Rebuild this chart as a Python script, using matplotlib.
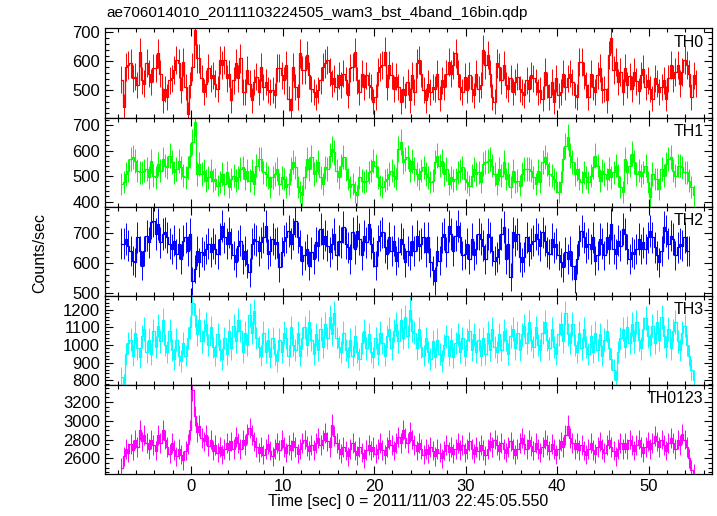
import numpy as np
import matplotlib
matplotlib.use("Agg")
import matplotlib.pyplot as plt
from matplotlib.ticker import MultipleLocator

plt.rcParams['font.family'] = ['Liberation Sans', 'DejaVu Sans']

title = "ae706014010_20111103224505_wam3_bst_4band_16bin.qdp"
xlabel = "Time [sec] 0 = 2011/11/03 22:45:05.550"
ylabel = "Counts/sec"
t_start = -7.6
bin_width = 0.25

names = ["TH0", "TH1", "TH2", "TH3", "TH0123"]

th0 = [537,444,581,587,593,541,547,518,631,535, 523,595,558,529,576,576,628,558,465,506,
       477,535,541,570,605,593,500,599,512,419, 518,581,709,610,610,541,494,523,576,541,
       552,523,506,605,587,605,541,558,465,535, 593,541,610,494,494,570,523,465,529,547,
       494,581,512,529,500,494,500,483,576,576, 552,535,587,471,431,581,512,477,628,570,
       570,622,552,506,494,477,500,535,581,593, 605,564,523,541,512,552,518,558,535,483,
       576,581,631,535,494,558,512,552,518,512, 460,477,564,581,587,634,512,587,552,506,
       547,512,460,506,
       483,529,465,552,494,593,605,558,500,465, 523,494,512,506,558,471,535,512,558,599,
       558,587,628,558,512,494,547,500,552,506, 483,558,506,518,640,587,622,558,477,460,
       593,581,535,587,518,506,541,494,529, 547,506,494,483,535,506,552,541,
       529,494,500,471,564,518,477,529,460, 541,483,494,558,512,541,558,529,483,
       477,599,599,552,518,477,558,512,494, 552,576,500,506,465,622,
       680,570,599,529, 564,494,576,518,548,506,563,531,497,552,575,512,535,506,471,541,523,494,
       512,535,471,541,587,541,564,587,523,564, 605,587,558,477,552,523]

th1 = [469,476,508,521,567,574,560,521,515,515, 521,528,495,560,502,495,547,521,567,541,
       534,580,554,515,528,560,534,502,495,534, 580,632,712,
       508,547,508,521,482,495,521,482,489,463, 476,508,469,515,456,489,502,482,495,528,
       534,489,521,482,521,469,541,567,567,515, 508,495,456,495,508,528,469,495,
       489,456,469,528,554,534,456,437, 424,495,567,528,574,508,521,554,495,
       469,534,528,580,606,593,521,495, 541,574,528,489,456,469,437,424,495,482,
       476,482,515,521,560,541,495,463,456,482, 489,508,521,502,489,606,632,554,567,574,
       521,560,528,508,489,521,534,508,495,476, 482,554,580,541,560,508,528,469,495,482,
       489,515,521,534,489,476,463,502,528,508, 515,476,547,554,560,567,541,508,469,528,
       502,554,489,508,456,521,476,482,463,508, 528,528,528,521,495,469,521,476,554,574,
       547,508,502,489,476,437,476,567,619,652,
       580,554,508,528,489,476,515,495,476,502, 534,580,541,482,521,508,489,528,495,515,
       541,502,456,437,567,515,541,587,554,508, 521,502,515,541,476,417,508,489,489,450,
       528,502,547,567,574,521,502,541,541,534, 515,515,482,456,424]

th2 = [664,664,680,658,641,608,602,686,641,591, 641,691,669,736,741,697,730,669,697,702,
       686,664,647,675,630,664,613,675,686,641, 697,541,580,641,602,636,625,647,664,636,
       664,647,630,680,724,686,664,702,664,625, 602,658,675,613,641,597,569,664,680,675,
       641,669,686,724,630,641,680,664,669,586, 636,675,686,708,664,697,741,686,658,608,
       625,647,591,636,613,669,658,713,664,691, 658,636,664,697,625,675,669,719,664,652,
       613,702,647,708,680,625,691,669,730,664, 636,591,675,691,702,652,630,686,641,675,
       608,636,680,664,602,
       641,625,675,641,691,658,664,686,636,686, 602,575,541,641,608,686,697,636,724,697,
       641,691,724,686,625,630,664,613,680,625, 647,697,680,658,613,697,686,641,608,619,
       647,697,719,613,664,552,702,675,697,619, 602,619,686,641,664,675,697,680,658,702,
       675,636,630,680,652,664,625,602,586,636, 613,641,591,547,613,675,708,686,652,664,
       647,686,608,625,680,664,625,686,647,730, 647,630,675,658,713,697,647,613,636,630,
       647,680,647,669,647,686,708,686,652,625, 602,641,719,708,664,691,680,625,652,664,
       658,686,641,641]

th3 = [820,780,950,1010, 1030,940,1070,980, 930,1050,1090,960, 1030,950,1080,990,
       1110,1020,1140,1000, 960,1080,970,920, 1030,940,910,1010, 940,1040,1100,1240,
       1170,1060,1140,1020, 1080,1120,1000,1100, 990,940,1060,970, 920,1040,950,1080,
       980,1110,1020,1140, 1080,960,1070,1000, 1170,1070,1190,1040, 990,940,1070,960,
       1030,930,1040,950, 910,1030,960,1070, 1040,940,1100,1000, 970,1070,940,1040,
       1100,1000,1130,1030, 950,1060,970,1090, 990,1120,1040,1160, 1060,1180,1040,990,
       960,1070,970,930, 1030,940,1050,960, 920,1010,1080,980, 1060,960,930,1040,
       950,1070,1010,940, 1050,1090,980,1080, 1120,1020,1140,1040, 1160,1050,1200,1080,
       1070,980,1090,990, 940,1040,960,920, 1020,930,1030,950, 910,1000,1050,940,
       1030,930,1010,1060, 960,1040,940,1030, 1080,970,1060,960, 1030,940,1040,950,
       1070,970,1090,990, 960,1060,970,1080, 1030,950,1050,1090, 980,1070,970,1060,
       1110,1010,1130,1030, 990,1100,1000,970, 1070,1130,1030,980, 1090,990,950,1060,
       1120,1020,1180,1060, 1010,1120,1000,960, 1070,980,1090,990, 950,1050,960,1070,
       970,1060,940,1030, 1080,980,920,860, 800,960,1040,1090, 990,1100,1010,1120,
       1020,1130,1030,980, 1090,1150,1050,1000, 1110,1010,1130,1030, 1160,1050,990,1090,
       980,1080,1130,1020, 970,1070,1110,1000, 940,860,800]

th0123 = [2500,2620,2700,2660, 2750,2690,2800,2720, 2900,2780,2850,2760, 2700,2800,2740,2680,
          2850,2760,2900,2800, 2720,2650,2760,2690, 2620,2700,2640,2580, 2680,2750,2900,3330,
          3050,2880,2950,2820, 2780,2850,2730,2800, 2680,2740,2660,2720, 2640,2700,2760,2690,
          2780,2700,2830,2760, 2700,2800,2740,2860, 2920,2850,2780,2720, 2660,2720,2640,2700,
          2750,2680,2620,2700, 2760,2690,2800,2720, 2660,2740,2690,2780, 2720,2650,2700,2760,
          2800,2730,2680,2740, 2690,2760,2820,2740, 2800,2870,2780,2720, 2960,2840,2760,2700,
          2650,2720,2680,2620, 2700,2760,2680,2630, 2720,2660,2600,2690, 2740,2680,2720,2650,
          2700,2760,2690,2640, 2720,2800,2740,2680, 2760,2830,2760,2900, 2820,2760,2880,2800,
          2740,2680,2760,2700, 2640,2700,2650,2720, 2680,2620,2700,2660, 2600,2680,2740,2670,
          2720,2650,2700,2760, 2690,2740,2660,2700, 2780,2700,2650,2720, 2680,2740,2690,2630,
          2700,2780,2720,2800, 2740,2680,2760,2700, 2660,2720,2780,2700, 2640,2700,2760,2820,
          2750,2700,2800,2730, 2680,2760,2700,2660, 2720,2800,2740,2680, 2750,2700,2640,2700,
          2780,2720,2850,2950, 2820,2760,2700,2760, 2690,2740,2680,2640, 2700,2760,2690,2650,
          2720,2780,2700,2660, 2740,2800,2720,2680, 2620,2700,2760,2700, 2760,2700,2800,2740,
          2680,2740,2800,2720, 2660,2720,2780,2700, 2760,2840,2780,2720, 2800,2740,2680,2760,
          2820,2760,2700,2800, 2740,2860,2800,2720, 2600,2480,2440]

series = [th0, th1, th2, th3, th0123]
colors = ["#ff0000", "#00ff00", "#0000ff", "#00ffff", "#ff00ff"]
ylims = [(406, 714), (380, 729), (490, 788), (773, 1278), (2430, 3382)]
ymajor = [100, 100, 100, 100, 200]
yminor = [20, 20, 20, 20, 50]

fig, axes = plt.subplots(5, 1, figsize=(7.17, 5.16), dpi=100, sharex=True)
fig.subplots_adjust(left=0.1464, right=0.993, top=0.945, bottom=0.081, hspace=0)

for ax, name, vals, col, yl, ymj, ymn in zip(axes, names, series, colors, ylims, ymajor, yminor):
    v = np.array(vals, dtype=float)
    t = t_start + bin_width * np.arange(len(v))
    err = np.sqrt(v * bin_width) / bin_width
    ax.errorbar(t, v, yerr=err, fmt='none', ecolor=col, elinewidth=0.7, zorder=2)
    ax.step(t, v, where='mid', color=col, lw=0.9, zorder=3)
    ax.set_ylim(*yl)
    ax.set_xlim(-9.4, 56.9)
    ax.xaxis.set_major_locator(MultipleLocator(10))
    ax.xaxis.set_minor_locator(MultipleLocator(2))
    ax.yaxis.set_major_locator(MultipleLocator(ymj))
    ax.yaxis.set_minor_locator(MultipleLocator(ymn))
    ax.tick_params(which='both', direction='in', top=True, right=True, labelsize=12, colors='black')
    ax.tick_params(which='major', length=6, width=0.8)
    ax.tick_params(which='minor', length=3, width=0.8)
    for s in ax.spines.values():
        s.set_linewidth(0.9)
    ax.text(0.986, 0.93, name, transform=ax.transAxes, ha='right', va='top', fontsize=11.5)

axes[-1].set_xlabel(xlabel, fontsize=11.5, labelpad=0)
fig.text(0.056, 0.51, ylabel, rotation=90, ha='center', va='center', fontsize=11.5)
fig.text(0.149, 0.975, title, ha='left', va='center', fontsize=11)

fig.savefig("out.png", dpi=100)
